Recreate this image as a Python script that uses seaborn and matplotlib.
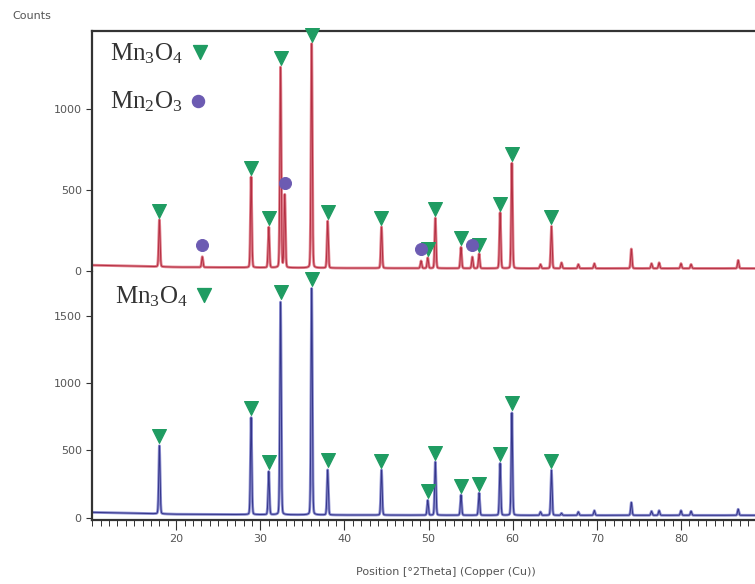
import numpy as np
import pandas as pd
import matplotlib
matplotlib.use("Agg")
import matplotlib.pyplot as plt
from matplotlib.ticker import MultipleLocator
import seaborn as sns

# Picos (posición en 2theta, altura en cuentas sobre el fondo)
mn3o4_pos = [18.0, 28.9, 31.0, 32.4, 36.1, 38.0, 44.4, 49.9, 50.8, 53.85, 56.0, 58.5, 59.9, 64.6]
red_mn3o4_h = [290, 560, 250, 1240, 1385, 290, 255, 65, 310, 130, 90, 345, 650, 260]
blue_mn3o4_h = [505, 720, 320, 1580, 1680, 335, 335, 110, 395, 150, 165, 385, 760, 335]

mn2o3_pos = [23.1, 32.9, 49.1, 55.2]
red_mn2o3_h = [65, 450, 45, 70]

minor_pos = [63.3, 65.8, 67.8, 69.7, 74.1, 76.5, 77.4, 80.0, 81.2, 86.8]
red_minor_h = [25, 35, 25, 30, 120, 30, 35, 30, 25, 50]
blue_minor_h = [25, 15, 25, 35, 95, 30, 35, 35, 30, 45]

# Fondo leído a unas pocas posiciones
bg_x = [10, 20, 40, 60, 89]
red_bg = [38, 26, 20, 18, 18]
blue_bg = [40, 26, 20, 18, 18]

x_min, x_max = 10, 88.8
red_color, red_dark = "#e0808d", "#b42f42"
blue_color, blue_dark = "#8d8fd0", "#34358a"
tri_color = "#1f9c62"
circ_color = "#6c5bb2"


def perfil(pos, alt, bg):
    x = np.linspace(x_min, x_max, 6000)
    y = np.interp(x, bg_x, bg).astype(float)
    for p, h in zip(pos, alt):
        w = 0.13
        g = np.exp(-0.5 * ((x - p) / (w / 1.6)) ** 2)
        lor = 1.0 / (1.0 + ((x - p) / (w / 2)) ** 2)
        y += h * (0.8 * g + 0.2 * lor)
    return pd.DataFrame({"x": x, "y": y})


rojo = perfil(mn3o4_pos + mn2o3_pos + minor_pos,
              red_mn3o4_h + red_mn2o3_h + red_minor_h, red_bg)
azul = perfil(mn3o4_pos + minor_pos, blue_mn3o4_h + blue_minor_h, blue_bg)

sns.set_style("white")
plt.rcParams["mathtext.fontset"] = "custom"
plt.rcParams["mathtext.rm"] = "Liberation Serif"
plt.rcParams["mathtext.it"] = "Liberation Serif:italic"

fig = plt.figure(figsize=(7.55, 5.84), dpi=100)
ax1 = fig.add_axes([0.122, 0.534, 0.878, 0.413])
ax2 = fig.add_axes([0.122, 0.110, 0.878, 0.424])

# Panel superior (rojo)
sns.lineplot(data=rojo, x="x", y="y", ax=ax1, color=red_color, lw=2.0, estimator=None, sort=False)
sns.lineplot(data=rojo, x="x", y="y", ax=ax1, color=red_dark, lw=0.7, estimator=None, sort=False)
bg_r = np.interp(mn3o4_pos, bg_x, red_bg)
sns.scatterplot(x=mn3o4_pos, y=np.array(red_mn3o4_h) + bg_r + 55, ax=ax1, marker="v",
                s=100, color=tri_color, edgecolor=tri_color, zorder=5, clip_on=False)
bg_r2 = np.interp(mn2o3_pos, bg_x, red_bg)
sns.scatterplot(x=mn2o3_pos, y=np.array(red_mn2o3_h) + bg_r2 + 75, ax=ax1, marker="o",
                s=75, color=circ_color, edgecolor=circ_color, zorder=5)
ax1.set_ylim(-5, 1485)

# Panel inferior (azul)
sns.lineplot(data=azul, x="x", y="y", ax=ax2, color=blue_color, lw=2.0, estimator=None, sort=False)
sns.lineplot(data=azul, x="x", y="y", ax=ax2, color=blue_dark, lw=0.7, estimator=None, sort=False)
bg_b = np.interp(mn3o4_pos, bg_x, blue_bg)
sns.scatterplot(x=mn3o4_pos, y=np.array(blue_mn3o4_h) + bg_b + 70, ax=ax2, marker="v",
                s=100, color=tri_color, edgecolor=tri_color, zorder=5)
ax2.set_ylim(-15, 1822)

for ax in (ax1, ax2):
    ax.set_xlim(x_min, x_max)
    ax.set_xlabel("")
    ax.set_ylabel("")
    ax.spines["right"].set_visible(False)
    ax.tick_params(axis="y", direction="out", length=4, width=0.8, colors="#333",
                   labelsize=8, labelcolor="#555", left=True)
    for s in ax.spines.values():
        s.set_color("#333")
        s.set_linewidth(1.6)

ax1.spines["bottom"].set_visible(False)
ax1.set_yticks([0, 500, 1000])
ax1.set_xticks([])
ax2.spines["top"].set_visible(False)
ax2.set_yticks([0, 500, 1000, 1500])
ax2.set_xticks(range(20, 90, 10))
ax2.xaxis.set_minor_locator(MultipleLocator(1))
ax2.tick_params(axis="x", which="major", direction="out", length=7, width=0.8,
                colors="#333", labelsize=8, labelcolor="#555", bottom=True)
ax2.tick_params(axis="x", which="minor", direction="out", length=4, width=0.7,
                colors="#333", bottom=True)
ax2.set_xlabel("Position [°2Theta] (Copper (Cu))", fontsize=8, color="#555")
ax2.xaxis.set_label_coords(0.534, -0.19)

# Leyendas a mano
txt = dict(fontsize=18, color="#333", family="Liberation Serif", va="center")
ax1.text(0.027, 0.905, r"Mn$_3$O$_4$", transform=ax1.transAxes, **txt)
ax1.text(0.027, 0.705, r"Mn$_2$O$_3$", transform=ax1.transAxes, **txt)
ax1.scatter([0.163], [0.912], marker="v", s=100, color=tri_color, transform=ax1.transAxes, zorder=6)
ax1.scatter([0.160], [0.711], marker="o", s=75, color=circ_color, transform=ax1.transAxes, zorder=6)
ax2.text(0.035, 0.9, r"Mn$_3$O$_4$", transform=ax2.transAxes, **txt)
ax2.scatter([0.169], [0.908], marker="v", s=100, color=tri_color, transform=ax2.transAxes, zorder=6)

fig.text(0.016, 0.968, "Counts", fontsize=8, color="#555")

fig.savefig("out.png", dpi=100)
